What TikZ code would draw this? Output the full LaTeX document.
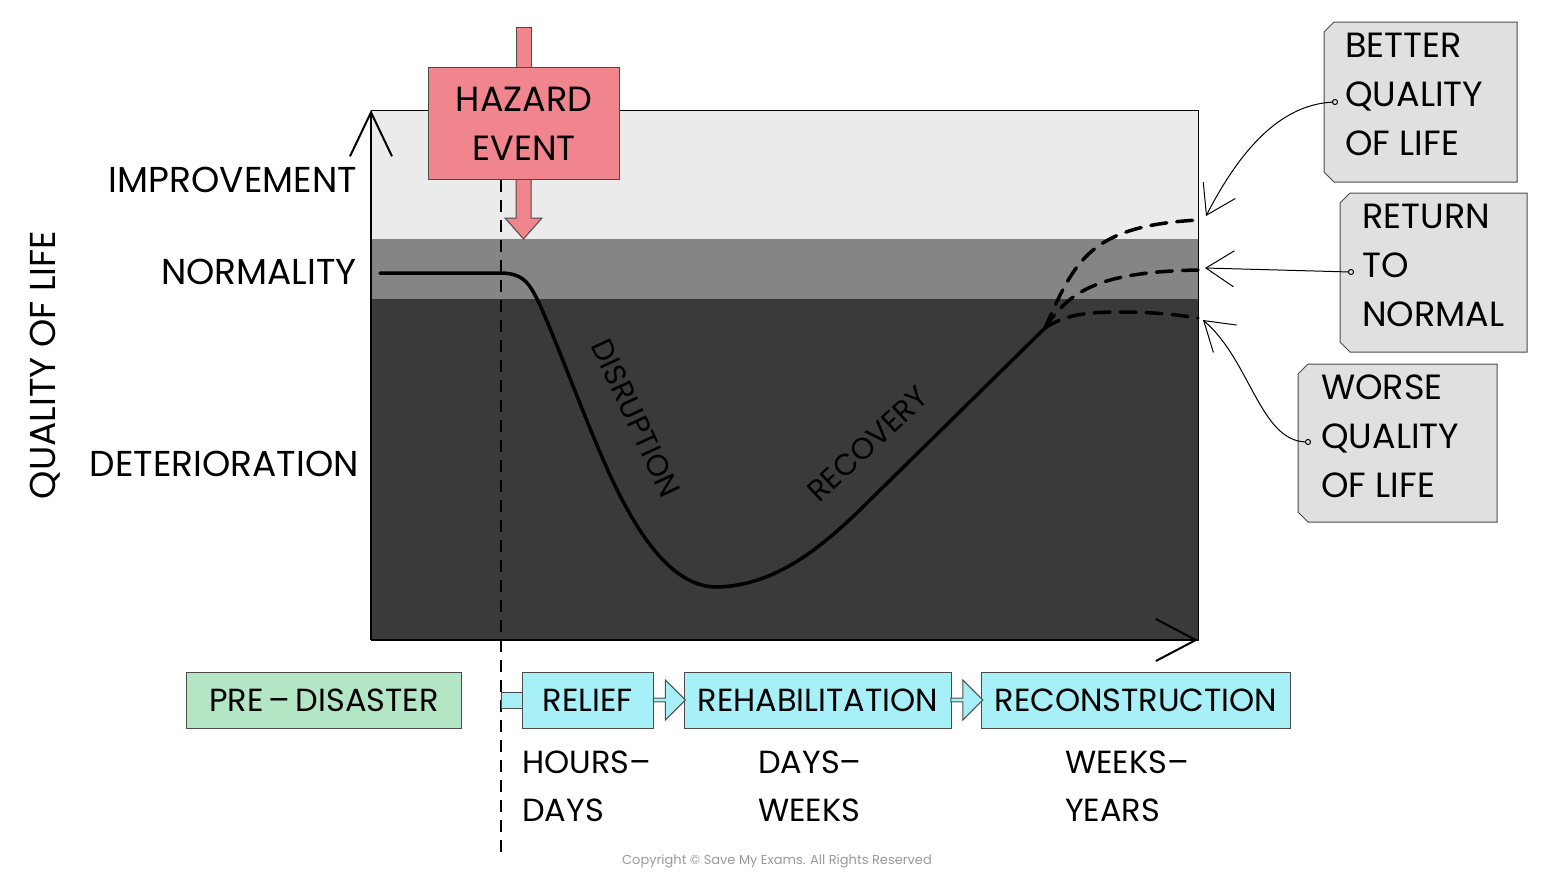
\documentclass[tikz,border=0pt]{standalone}
\usepackage{fontspec}
\setmainfont{Poppins}
\usetikzlibrary{arrows.meta,shapes.arrows}
\definecolor{lightb}{HTML}{EBEBEB}
\definecolor{midb}{HTML}{858585}
\definecolor{darkb}{HTML}{3A3A3A}
\definecolor{haz}{HTML}{F0858E}
\definecolor{gbox}{HTML}{E0E0E0}
\definecolor{pre}{HTML}{B3E6C4}
\definecolor{cy}{HTML}{A8F0F8}
\tikzset{
  lab/.style={font=\fontsize{36}{40}\selectfont, inner sep=0pt},
  boxtxt/.style={font=\fontsize{35}{49}\selectfont,align=left,anchor=north west,inner sep=0pt},
  phase/.style={draw=black!70, line width=1pt, font=\fontsize{32}{36}\selectfont, inner sep=0pt, anchor=north west},
  curve/.style={line width=3.5pt, line cap=round},
  pointer/.style={-{Straight Barb[length=28pt,width=36pt]}, line width=1pt},
  blk/.style={single arrow, draw=black!70, fill=cy, minimum height=32pt, minimum width=40pt, single arrow head extend=5pt, inner sep=0pt, line width=1pt}
}
\begin{document}
\begin{tikzpicture}[x=1pt,y=-1pt]
\useasboundingbox (0,0) rectangle (1542,892);
% bands
\fill[lightb] (371,110) rectangle (1198,239);
\fill[midb] (371,239) rectangle (1198,299);
\fill[darkb] (371,299) rectangle (1198,640);
\draw[line width=1pt] (371,110) rectangle (1198,640);
% axes
\coordinate (o) at (371,640);
\coordinate (ytop) at (371,110);
\coordinate (xend) at (1198,640);
\draw[line width=2pt,-{Straight Barb[length=44pt,width=42pt,line width=2pt]}] (o) -- (ytop);
\draw[line width=2pt,-{Straight Barb[length=40pt,width=42pt,line width=2pt]}] (o) -- (xend);
% dashed vertical
\coordinate (vt) at (501,180);
\coordinate (vb) at (501,855);
\draw[line width=1.3pt,dash pattern=on 12pt off 8pt] (vt) -- (vb);
% hazard
\fill[haz,draw=black!70,line width=1pt] (516,27) rectangle (531,67);
\fill[haz,draw=black!70,line width=1pt] (516,179) -- (516,218) -- (505,218) -- (523.5,239) -- (542,218) -- (531,218) -- (531,179);
\node[draw=black!70,fill=haz,line width=1pt,minimum width=191pt,minimum height=112pt,anchor=north west,align=center,font=\fontsize{35}{49}\selectfont,inner sep=0pt] (hz) at (428,67) {HAZARD\\EVENT};
% labels
\node[lab,anchor=east] (imp) at (357,180) {IMPROVEMENT};
\node[lab,anchor=east] (nor) at (357,272) {NORMALITY};
\node[lab,anchor=east] (det) at (359,464) {DETERIORATION};
\node[lab,rotate=90] (qol) at (45,365) {QUALITY OF LIFE};
% curve
\coordinate (c0) at (380,273);
\coordinate (c1) at (500,273);
\coordinate (cj) at (1045,328);
\coordinate (eb) at (1198,220);
\coordinate (er) at (1198,270);
\coordinate (ew) at (1198,318);
\draw[curve] (c0) -- (c1) .. controls (525,273) and (530,285) .. (540,305)
  .. controls (560,350) and (585,420) .. (610,475)
  .. controls (640,540) and (675,588) .. (718,587)
  .. controls (775,585) and (820,550) .. (870,500) -- (cj);
\tikzset{dsh/.style={curve,dash pattern=on 16pt off 10pt}}
\draw[dsh] (cj) .. controls (1065,315) and (1085,312) .. (1120,312) .. controls (1160,312) and (1185,316) .. (ew);
\draw[dsh] (cj) .. controls (1070,290) and (1100,272) .. (er);
\draw[dsh] (cj) .. controls (1075,260) and (1090,226) .. (eb);
\node[font=\fontsize{30}{34}\selectfont,rotate=-65] (dis) at (636,418) {DISRUPTION};
\node[font=\fontsize{30}{34}\selectfont,rotate=43] (rec) at (868,444) {RECOVERY};
% side boxes
\draw[draw=black!70,fill=gbox,line width=1pt] (1334,22) -- (1517,22) -- (1517,182) -- (1334,182) -- (1324,172) -- (1324,32) -- cycle;
\node[boxtxt] (bq) at (1345,33) {BETTER\\QUALITY\\OF LIFE};
\draw[draw=black!70,fill=gbox,line width=1pt] (1350,193) -- (1527,193) -- (1527,352) -- (1350,352) -- (1340,342) -- (1340,203) -- cycle;
\node[boxtxt] (rn) at (1362,204) {RETURN\\TO\\NORMAL};
\draw[draw=black!70,fill=gbox,line width=1pt] (1308,364) -- (1497,364) -- (1497,522) -- (1308,522) -- (1298,512) -- (1298,374) -- cycle;
\node[boxtxt] (wq) at (1321,375) {WORSE\\QUALITY\\OF LIFE};
\node[circle,draw,fill=gbox,inner sep=1.8pt,line width=1pt] (d1) at (1335,102) {};
\node[circle,draw,fill=gbox,inner sep=1.8pt,line width=1pt] (d2) at (1351,272) {};
\node[circle,draw,fill=gbox,inner sep=1.8pt,line width=1pt] (d3) at (1308,442) {};
\draw[pointer] (d1) .. controls (1280,105) and (1240,150) .. (1206,216);
\draw[pointer] (d2) -- (1205,268);
\draw[pointer] (d3) .. controls (1260,440) and (1250,360) .. (1203,320);
% phases
\node[phase,fill=pre,minimum width=275pt,minimum height=56pt] (pd) at (186,672) {PRE{\,}–{\,}DISASTER};
\node[phase,fill=cy,minimum width=131pt,minimum height=56pt] (rl) at (522,672) {RELIEF};
\node[phase,fill=cy,minimum width=267pt,minimum height=56pt] (rh) at (684,672) {REHABILITATION};
\node[phase,fill=cy,minimum width=309pt,minimum height=56pt] (rc) at (981,672) {RECONSTRUCTION};
\fill[cy,draw=black!70,line width=1pt] (501,692) rectangle (522,708);
\node[blk] (a1) at (668.5,700) {};
\node[blk] (a2) at (966,700) {};
% durations
\node[boxtxt,font=\fontsize{32}{48}\selectfont] (t1) at (522,751) {HOURS–\\DAYS};
\node[boxtxt,font=\fontsize{32}{48}\selectfont] (t2) at (758,751) {DAYS–\\WEEKS};
\node[boxtxt,font=\fontsize{32}{48}\selectfont] (t3) at (1065,751) {WEEKS–\\YEARS};
\node[font=\fontsize{13}{15}\selectfont,text=black!40] (cp) at (777,861) {Copyright © Save My Exams. All Rights Reserved};
\end{tikzpicture}
\end{document}
